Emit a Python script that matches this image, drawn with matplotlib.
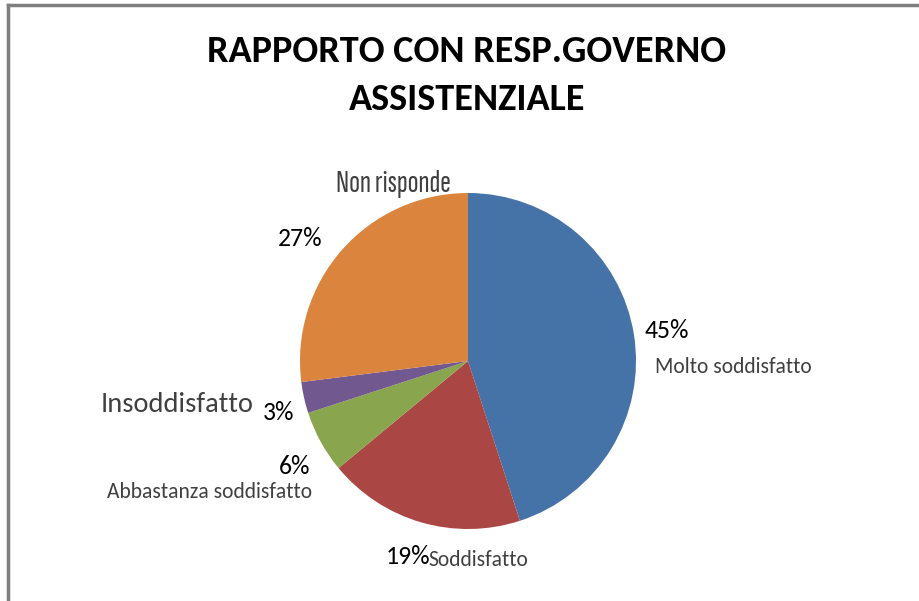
import matplotlib.pyplot as plt
from matplotlib.lines import Line2D

# Survey answers
categorie = ['Molto soddisfatto', 'Soddisfatto', 'Abbastanza soddisfatto',
             'Insoddisfatto', 'Non risponde']
percentuali = [45, 19, 6, 3, 27]
colori = ['#4572A7', '#AA4643', '#89A54E', '#71588F', '#DB843D']

W, H = 919, 601
fig = plt.figure(figsize=(W / 100, H / 100), dpi=100)

def px(x, y):
    # pixel coords (from top-left) -> figure fraction
    return x / W, 1 - y / H

# frame of the chart area (only top/left edges fall inside the image)
fig.add_artist(Line2D([8 / W, 8 / W], [0, 1 - 5 / H], color='#7f7f7f', lw=2.5,
                      transform=fig.transFigure))
fig.add_artist(Line2D([8 / W, 1], [1 - 5 / H, 1 - 5 / H], color='#7f7f7f', lw=2.5,
                      transform=fig.transFigure))

# pie, centre (468, 361) radius 168 px
cx, cy, r = 468, 361, 168
ax = fig.add_axes([(cx - r) / W, (H - cy - r) / H, 2 * r / W, 2 * r / H])
ax.pie(percentuali, colors=colori, startangle=90, counterclock=False,
       wedgeprops=dict(linewidth=0))
ax.set_xlim(-1, 1)
ax.set_ylim(-1, 1)
ax.set_aspect('equal')
ax.axis('off')

fam = ['Carlito', 'DejaVu Sans']
narrow = ['Sofia Sans Extra Condensed', 'Sofia Sans Condensed', 'Carlito', 'DejaVu Sans']

fig.text(*px(467, 51), 'RAPPORTO CON RESP.GOVERNO', ha='center', va='center',
         fontsize=27.5, fontweight='bold', family=fam)
fig.text(*px(467, 99), 'ASSISTENZIALE', ha='center', va='center',
         fontsize=27.5, fontweight='bold', family=fam)

pct_pos = [(667, 330), (408, 557), (295, 466), (279, 413), (300, 238)]
for p, (x, y) in zip(percentuali, pct_pos):
    fig.text(*px(x, y), f'{p}%', ha='center', va='center', fontsize=18.5,
             family=fam, color='black')

grigio = '#404040'
fig.text(*px(655, 367), categorie[0], ha='left', va='center', fontsize=15.5,
         family=fam, color=grigio)
fig.text(*px(428, 560), categorie[1], ha='left', va='center', fontsize=15.5,
         family=fam, color=grigio)
fig.text(*px(312, 492), categorie[2], ha='right', va='center', fontsize=15.5,
         family=fam, color=grigio)
fig.text(*px(254, 404), categorie[3], ha='right', va='center', fontsize=20.5,
         family=fam, color=grigio)
fig.text(*px(393, 184), categorie[4], ha='center', va='center', fontsize=23,
         family=narrow, color=grigio)

fig.savefig('out.png', dpi=100)
